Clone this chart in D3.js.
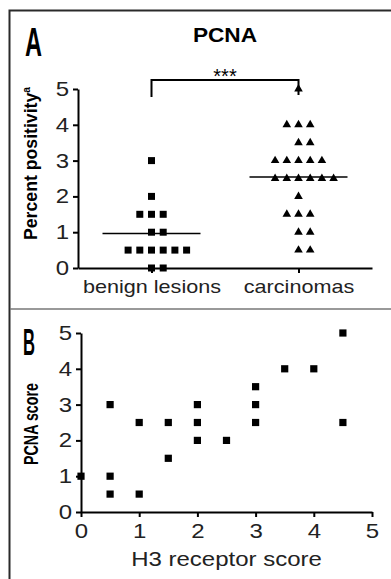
<!DOCTYPE html>
<html>
<head>
<meta charset="utf-8">
<script src="https://cdn.jsdelivr.net/npm/d3@7"></script>
<style>
  body { margin: 0; background: #fff; }
  svg { display: block; }
  .axis path, .axis line { stroke: #000; stroke-width: 2; }
</style>
</head>
<body>
<svg width="391" height="579"></svg>
<script>
// panel A: percent positivity, one entry per case
var benign = [3, 2, 1.5, 1.5, 1.5, 1, 1, 0.5, 0.5, 0.5, 0.5, 0.5, 0.5, 0, 0];
var carcinomas = [5, 4, 4, 4, 3.5, 3.5, 3, 3, 3, 3, 3, 2.5, 2.5, 2.5, 2.5, 2.5, 2.5, 2, 1.5, 1.5, 1.5, 1, 1, 0.5, 0.5];
var groups = ["benign lesions", "carcinomas"];
var yTicksA = [0, 1, 2, 3, 4, 5];

// panel B: H3 receptor score vs PCNA score
var h3 = [0, 0.5, 0.5, 0.5, 1, 1, 1.5, 1.5, 2, 2, 2, 2.5, 3, 3, 3, 3.5, 4, 4.5, 4.5];
var pcna = [1, 3, 1, 0.5, 2.5, 0.5, 2.5, 1.5, 3, 2.5, 2, 2, 3.5, 3, 2.5, 4, 4, 5, 2.5];
var ticksB = [0, 1, 2, 3, 4, 5];

var svg = d3.select("svg");
var sans = "'Liberation Sans', Arial, sans-serif",
    narrow = "'Liberation Sans Narrow', 'Liberation Sans', sans-serif",
    sx = 1.2; // the figure's text is a bit wider than plain Arial

// frame + divider
svg.append("path")
  .attr("d", "M9.5,579V10.5H391")
  .attr("fill", "none").attr("stroke", "#2a2a2a").attr("stroke-width", 2);
svg.append("line")
  .attr("x1", 10).attr("x2", 391).attr("y1", 309).attr("y2", 309)
  .attr("stroke", "#777").attr("stroke-width", 1.5);

function styleTicks(sel, size) {
  sel.select(".domain").attr("stroke-width", 2);
  sel.selectAll(".tick line").attr("stroke-width", 2);
  sel.selectAll("text")
    .attr("fill", "#222")
    .style("font-family", sans)
    .style("font-size", size + "px");
}

/* ---------- panel A ---------- */
var yA = d3.scaleLinear().domain([0, 5]).range([268, 89]);
var xA = d3.scalePoint().domain(groups).range([78, 372]).padding(0.5);

var gyA = svg.append("g").attr("class", "axis")
  .attr("transform", "translate(78,0)")
  .call(d3.axisLeft(yA).tickValues(yTicksA).tickFormat(d3.format("d")).tickSize(5).tickSizeOuter(0));
styleTicks(gyA, 20);
gyA.selectAll("text").attr("x", -7.5).attr("transform", "scale(" + sx + ",1)");

var gxA = svg.append("g").attr("class", "axis")
  .attr("transform", "translate(0,268)")
  .call(d3.axisBottom(xA).tickSize(5).tickPadding(7).tickSizeOuter(0));
styleTicks(gxA, 18);
gxA.selectAll("text").attr("transform", "scale(" + sx + ",1)");

// column scatter: points sharing a value spread sideways
var step = 11.7;
function spread(values) {
  var rows = d3.group(values, function (d) { return d; });
  var pts = [];
  rows.forEach(function (arr, v) {
    var n = arr.length;
    arr.forEach(function (d, i) {
      pts.push({ v: v, off: (i - Math.floor((n - 1) / 2)) * step });
    });
  });
  return pts;
}

var sets = [
  { name: groups[0], values: benign, sym: d3.symbol(d3.symbolSquare, 49) },
  { name: groups[1], values: carcinomas, sym: d3.symbol(d3.symbolTriangle, 32) }
];

sets.forEach(function (s) {
  var cx = xA(s.name);
  svg.append("g").selectAll("path")
    .data(spread(s.values))
    .enter().append("path")
    .attr("d", s.sym)
    .attr("fill", "#000")
    .attr("transform", function (d) { return "translate(" + (cx + d.off) + "," + yA(d.v) + ")"; });
  // mean line
  var m = d3.mean(s.values);
  svg.append("line")
    .attr("x1", cx - 49).attr("x2", cx + 49)
    .attr("y1", yA(m)).attr("y2", yA(m))
    .attr("stroke", "#000").attr("stroke-width", 1.5);
});

// significance bracket
var bx0 = xA(groups[0]), bx1 = xA(groups[1]), btop = yA(5) - 9, bbot = yA(5) + 8;
svg.append("path")
  .attr("d", d3.line()([[bx0, bbot], [bx0, btop], [bx1, btop], [bx1, bbot - 2]]))
  .attr("fill", "none").attr("stroke", "#000").attr("stroke-width", 2);
svg.append("text")
  .attr("x", (bx0 + bx1) / 2).attr("y", btop + 3)
  .attr("text-anchor", "middle")
  .style("font-family", sans).style("font-size", "20px")
  .text("***");

svg.append("text")
  .attr("transform", "translate(" + ((bx0 + bx1) / 2) + ",42) scale(1.08,1)")
  .attr("text-anchor", "middle")
  .style("font-family", sans).style("font-size", "21px").style("font-weight", "bold")
  .text("PCNA");

svg.append("text")
  .attr("x", 25).attr("y", 56)
  .attr("textLength", 17).attr("lengthAdjust", "spacingAndGlyphs")
  .style("font-family", narrow).style("font-size", "40px").style("font-weight", "bold")
  .text("A");

var ylabA = svg.append("text")
  .attr("transform", "translate(37,240) rotate(-90)")
  .attr("textLength", 153).attr("lengthAdjust", "spacingAndGlyphs")
  .style("font-family", narrow).style("font-size", "19px").style("font-weight", "bold");
ylabA.append("tspan").text("Percent positivity");
ylabA.append("tspan").attr("dy", -7).style("font-size", "11px").text("a");

/* ---------- panel B ---------- */
var xB = d3.scaleLinear().domain([0, 5]).range([81, 372]);
var yB = d3.scaleLinear().domain([0, 5]).range([512, 333]);

var gyB = svg.append("g").attr("class", "axis")
  .attr("transform", "translate(81,0)")
  .call(d3.axisLeft(yB).tickValues(ticksB).tickFormat(d3.format("d")).tickSize(5).tickSizeOuter(0));
styleTicks(gyB, 20);
gyB.selectAll("text").attr("x", -7.5).attr("transform", "scale(" + sx + ",1)");

var gxB = svg.append("g").attr("class", "axis")
  .attr("transform", "translate(0,512)")
  .call(d3.axisBottom(xB).tickValues(ticksB).tickFormat(d3.format("d")).tickSize(5).tickPadding(7).tickSizeOuter(0));
styleTicks(gxB, 20);
gxB.selectAll("text").attr("transform", "scale(" + sx + ",1)");

svg.append("g").selectAll("path")
  .data(h3.map(function (d, i) { return [d, pcna[i]]; }))
  .enter().append("path")
  .attr("d", d3.symbol(d3.symbolSquare, 52))
  .attr("fill", "#000")
  .attr("transform", function (d) { return "translate(" + xB(d[0]) + "," + yB(d[1]) + ")"; });

svg.append("text")
  .attr("transform", "translate(" + xB(2.5) + ",566) scale(" + sx + ",1)")
  .attr("text-anchor", "middle")
  .attr("fill", "#222")
  .style("font-family", sans).style("font-size", "20px")
  .text("H3 receptor score");

svg.append("text")
  .attr("transform", "translate(38,424) rotate(-90)")
  .attr("text-anchor", "middle")
  .attr("textLength", 82).attr("lengthAdjust", "spacingAndGlyphs")
  .style("font-family", narrow).style("font-size", "20px").style("font-weight", "bold")
  .text("PCNA score");

svg.append("text")
  .attr("x", 23).attr("y", 355)
  .attr("textLength", 12).attr("lengthAdjust", "spacingAndGlyphs")
  .style("font-family", narrow).style("font-size", "37px").style("font-weight", "bold")
  .text("B");
</script>
</body>
</html>
